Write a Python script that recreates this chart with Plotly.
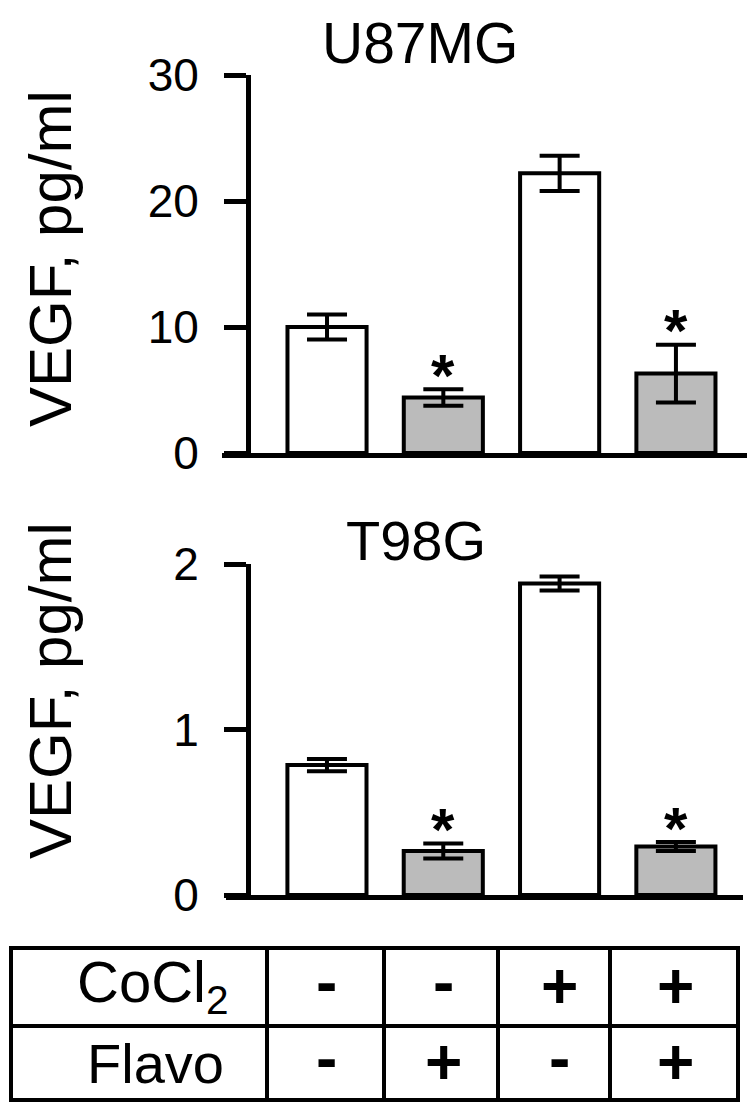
import plotly.graph_objects as go

# ---------------- data ----------------
conditions = ["CoCl2-/Flavo-", "CoCl2-/Flavo+", "CoCl2+/Flavo-", "CoCl2+/Flavo+"]
u87_mean = [10.0, 4.4, 22.2, 6.3]
u87_err = [1.0, 0.65, 1.4, 2.3]
t98_mean = [0.785, 0.266, 1.882, 0.293]
t98_err = [0.037, 0.045, 0.042, 0.027]
significant = [False, True, False, True]
cocl2_row = ["-", "-", "+", "+"]
flavo_row = ["-", "+", "-", "+"]
u87_ticks = [0, 10, 20, 30]
t98_ticks = [0, 1, 2]

# ---------------- style ----------------
OFF = 8                      # default page body margin
W, H = 756 - 2 * OFF, 1110 - 2 * OFF
FONT = "Liberation Sans, Arial, sans-serif"
bar_colors = ["#ffffff", "#bbbbbb", "#ffffff", "#bbbbbb"]


def fx(p):
    return (p - OFF) / W


def fy(p):
    return (H - (p - OFF)) / H


fig = go.Figure()

for mean, err, xa, ya in [(u87_mean, u87_err, "x", "y"), (t98_mean, t98_err, "x2", "y2")]:
    fig.add_trace(go.Bar(
        x=conditions, y=mean, xaxis=xa, yaxis=ya,
        width=0.68,
        marker=dict(color=bar_colors, line=dict(color="black", width=4)),
        error_y=dict(type="data", array=err, visible=True, color="black",
                     thickness=4, width=20),
        showlegend=False, hoverinfo="skip",
    ))

axis_common = dict(showgrid=False, zeroline=False, showline=True,
                   linecolor="black", linewidth=5, automargin=False)

fig.update_layout(
    template="none",
    width=W, height=H,
    margin=dict(l=0, r=0, t=0, b=0, pad=0, autoexpand=False),
    paper_bgcolor="white", plot_bgcolor="white",
    showlegend=False,
    font=dict(family=FONT, color="black"),
    xaxis=dict(domain=[fx(222), fx(747)], range=[-0.903, 3.611], anchor="y",
               showticklabels=False, ticks="", type="category", **axis_common),
    yaxis=dict(domain=[fy(453), fy(75)], range=[0, 30], anchor="free",
               position=fx(248), tickvals=u87_ticks, ticks="outside",
               ticklen=22, tickwidth=5, tickcolor="black",
               ticklabelstandoff=16,
               tickfont=dict(size=46, family=FONT), **axis_common),
    xaxis2=dict(domain=[fx(226), fx(743)], range=[-0.868, 3.577], anchor="y2",
                showticklabels=False, ticks="", type="category", **axis_common),
    yaxis2=dict(domain=[fy(895), fy(564)], range=[0, 2], anchor="free",
                position=fx(248), tickvals=t98_ticks, ticks="outside",
                ticklen=22, tickwidth=5, tickcolor="black",
                ticklabelstandoff=16,
                tickfont=dict(size=46, family=FONT), **axis_common),
)

ann = []
# titles
ann.append(dict(text="U87MG", x=fx(420), y=fy(43), xref="paper", yref="paper",
                showarrow=False, xanchor="center", yanchor="middle",
                font=dict(size=57, family=FONT)))
ann.append(dict(text="T98G", x=fx(416), y=fy(540), xref="paper", yref="paper",
                showarrow=False, xanchor="center", yanchor="middle",
                font=dict(size=56, family=FONT)))
# y titles
for yc in (259, 691):
    ann.append(dict(text="VEGF, pg/ml", x=fx(50), y=fy(yc), xref="paper", yref="paper",
                    showarrow=False, textangle=-90, xanchor="center", yanchor="middle",
                    font=dict(size=60, family=FONT)))
# significance asterisks
for mean, err, xa, ya in [(u87_mean, u87_err, "x", "y"), (t98_mean, t98_err, "x2", "y2")]:
    for c, m, e, s in zip(conditions, mean, err, significant):
        if s:
            ann.append(dict(text="<b>*</b>", x=c, y=m + e, xref=xa, yref=ya,
                            showarrow=False, xanchor="center", yanchor="middle",
                            yshift=14, font=dict(size=60, family=FONT)))

# table
row1_y, row2_y = 986, 1062
ann.append(dict(text="CoCl<sub>2</sub>", x=fx(153), y=fy(986), xref="paper", yref="paper",
                showarrow=False, xanchor="center", yanchor="middle",
                font=dict(size=58, family=FONT)))
ann.append(dict(text="Flavo", x=fx(155), y=fy(1063), xref="paper", yref="paper",
                showarrow=False, xanchor="center", yanchor="middle",
                font=dict(size=56, family=FONT)))
sym_shift = {"+": 0, "-": 4}
for row, yc in ((cocl2_row, row1_y), (flavo_row, row2_y)):
    for c, s in zip(conditions, row):
        ann.append(dict(text=f"<b>{s}</b>", x=c, y=fy(yc), xref="x2", yref="paper",
                        showarrow=False, xanchor="center", yanchor="middle",
                        yshift=sym_shift[s],
                        font=dict(size=64, family=FONT)))
fig.update_layout(annotations=ann)

shapes = []
lw = 4
shapes.append(dict(type="rect", xref="paper", yref="paper",
                   x0=fx(11), x1=fx(738), y0=fy(948), y1=fy(1100),
                   line=dict(color="black", width=lw)))
shapes.append(dict(type="line", xref="paper", yref="paper",
                   x0=fx(11), x1=fx(738), y0=fy(1026), y1=fy(1026),
                   line=dict(color="black", width=lw)))
for xv in (267, 384, 498, 610):
    shapes.append(dict(type="line", xref="paper", yref="paper",
                       x0=fx(xv), x1=fx(xv), y0=fy(948), y1=fy(1100),
                       line=dict(color="black", width=lw)))
fig.update_layout(shapes=shapes)

fig.write_html("out.html")
